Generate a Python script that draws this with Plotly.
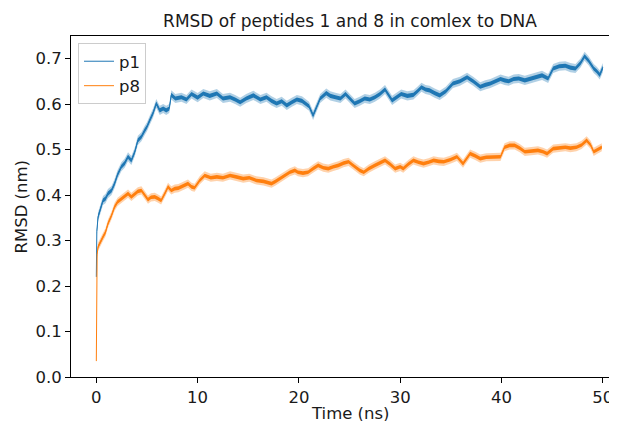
import plotly.graph_objects as go

# ---------------- data ----------------
t_p1 = [0, 0.05, 0.17, 0.4, 0.66, 0.9, 1.15, 1.5, 1.8, 2.1, 2.47, 2.8, 3.13, 3.46, 3.8,
        4.1, 4.45, 4.78, 5.0, 5.27, 5.6, 5.92, 6.26, 6.6, 6.9, 7.2, 7.4, 7.8, 8.4, 8.9,
        9.4, 10.0, 10.56, 11.2, 11.9, 12.5, 13.2, 13.7, 14.2, 14.8, 15.5, 16.2, 16.8,
        17.3, 17.8, 18.3, 18.8, 19.3, 19.8, 20.3, 20.6, 21.0, 21.4, 21.7, 22.1, 22.7,
        23.1, 23.6, 24.1, 24.6, 25.0, 25.5, 26.0, 26.5, 27.0, 27.5, 28.0, 28.5, 29.2,
        29.6, 30.1, 30.7, 31.3, 31.7, 32.1, 32.5, 32.9, 33.4, 33.9, 34.5, 35.2, 35.9,
        36.6, 37.2, 37.9, 38.4, 38.9, 39.4, 39.9, 40.3, 40.7, 41.2, 41.7, 42.3, 43.0,
        43.5, 44.0, 44.6, 45.1, 45.7, 46.3, 46.8, 47.3, 47.8, 48.2, 48.6, 49.1, 49.4,
        49.7, 50.0]
rmsd_p1 = [0.22, 0.32, 0.352, 0.37, 0.388, 0.392, 0.403, 0.41, 0.425, 0.445, 0.462, 0.47,
           0.484, 0.476, 0.495, 0.52, 0.528, 0.542, 0.55, 0.564, 0.58, 0.601, 0.586, 0.59,
           0.586, 0.59, 0.62, 0.612, 0.615, 0.61, 0.622, 0.614, 0.623, 0.618, 0.623,
           0.612, 0.615, 0.61, 0.604, 0.612, 0.619, 0.61, 0.615, 0.607, 0.601, 0.606,
           0.597, 0.604, 0.61, 0.607, 0.601, 0.595, 0.575, 0.59, 0.612, 0.624, 0.618,
           0.615, 0.612, 0.622, 0.612, 0.601, 0.606, 0.612, 0.61, 0.615, 0.622, 0.632,
           0.608, 0.614, 0.622, 0.618, 0.62, 0.628, 0.637, 0.632, 0.63, 0.624, 0.619,
           0.628, 0.645, 0.65, 0.659, 0.65, 0.638, 0.642, 0.645, 0.65, 0.655, 0.652,
           0.65, 0.655, 0.656, 0.652, 0.656, 0.66, 0.663, 0.656, 0.678, 0.683, 0.684,
           0.68, 0.678, 0.69, 0.705, 0.695, 0.678, 0.672, 0.664, 0.68]

t_p8 = [0, 0.03, 0.08, 0.17, 0.4, 0.66, 0.9, 1.15, 1.5, 1.8, 2.1, 2.47, 2.8, 3.13, 3.46,
        3.8, 4.1, 4.45, 4.8, 5.1, 5.4, 5.77, 6.1, 6.4, 6.8, 7.08, 7.4, 7.74, 8.1, 8.4,
        8.7, 9.05, 9.4, 9.7, 10.2, 10.7, 11.3, 11.9, 12.5, 13.2, 13.8, 14.5, 15.1, 15.8,
        16.5, 17.3, 17.7, 18.1, 18.6, 19.1, 19.6, 19.9, 20.4, 20.9, 21.4, 21.9, 22.4,
        22.9, 23.4, 23.9, 24.4, 24.9, 25.3, 25.7, 26.0, 26.4, 26.9, 27.5, 28.0, 28.5,
        29.0, 29.5, 30.0, 30.3, 30.8, 31.3, 31.8, 32.3, 32.8, 33.3, 33.8, 34.3, 35.0,
        35.6, 36.2, 36.9, 37.4, 37.9, 38.5, 39.2, 39.9, 40.3, 40.8, 41.3, 41.8, 42.3,
        43.0, 43.6, 44.1, 44.5, 45.1, 45.7, 46.3, 46.8, 47.4, 47.9, 48.4, 48.8, 49.1,
        49.5, 49.9]
rmsd_p8 = [0.035, 0.2, 0.27, 0.286, 0.295, 0.308, 0.318, 0.337, 0.355, 0.374, 0.385,
           0.392, 0.398, 0.403, 0.396, 0.403, 0.408, 0.41, 0.4, 0.39, 0.395, 0.396,
           0.392, 0.388, 0.405, 0.418, 0.41, 0.414, 0.415, 0.418, 0.42, 0.425, 0.418,
           0.416, 0.432, 0.443, 0.438, 0.44, 0.438, 0.443, 0.44, 0.436, 0.438, 0.432,
           0.43, 0.425, 0.43, 0.436, 0.442, 0.45, 0.454, 0.45, 0.448, 0.45, 0.458,
           0.465, 0.46, 0.458, 0.462, 0.465, 0.47, 0.473, 0.466, 0.458, 0.454, 0.45,
           0.458, 0.465, 0.47, 0.476, 0.468, 0.458, 0.462, 0.458, 0.468, 0.476, 0.472,
           0.469, 0.472, 0.476, 0.474, 0.473, 0.478, 0.484, 0.469, 0.491, 0.486, 0.48,
           0.483, 0.484, 0.484, 0.505, 0.509, 0.509, 0.503, 0.495, 0.497, 0.498, 0.495,
           0.491, 0.502, 0.503, 0.505, 0.503, 0.505, 0.51, 0.52, 0.51, 0.495, 0.5, 0.505]

# half-widths of the fast fluctuation band seen around each trace
# (dense core, and the fainter spikes around it)
core_p1, outer_p1 = 0.0045, 0.010
core_p8, outer_p8 = 0.004, 0.009

series_names = ["p1", "p8"]
x_ticks = [0, 10, 20, 30, 40, 50]
y_ticks = [0.0, 0.1, 0.2, 0.3, 0.4, 0.5, 0.6, 0.7]

BLUE = "#1f77b4"
ORANGE = "#ff7f0e"
FONT = "DejaVu Sans"
TXT = "#1a1a1a"
FS = 16.5

fig = go.Figure()


def add_band(t, v, spread, color, fill_rgba):
    lo = [a - spread for a in v]
    hi = [a + spread for a in v]
    fig.add_trace(go.Scatter(x=t, y=lo, mode="lines", line=dict(width=0, color=color),
                             showlegend=False, hoverinfo="skip"))
    fig.add_trace(go.Scatter(x=t, y=hi, mode="lines", line=dict(width=0, color=color),
                             fill="tonexty", fillcolor=fill_rgba, showlegend=False,
                             hoverinfo="skip"))


def add_series(t, v, core, outer, color, rgb, name):
    add_band(t, v, outer, color, "rgba(%s,0.35)" % rgb)
    add_band(t, v, core, color, "rgba(%s,1)" % rgb)
    fig.add_trace(go.Scatter(x=t, y=v, mode="lines", name=name,
                             line=dict(width=1, color=color)))


add_series(t_p1, rmsd_p1, core_p1, outer_p1, BLUE, "31,119,180", series_names[0])
add_series(t_p8, rmsd_p8, core_p8, outer_p8, ORANGE, "255,127,14", series_names[1])

# the page body has an 8px margin, so the figure starts at (8, 8) in the window
OFF = 8
W, H = 617 - OFF, 421 - OFF
L, R, T, B = 71 - OFF, 0, 36 - OFF, 421 - 377
pw = W - L - R
ph = H - T - B


def px_x(win_x):
    return (win_x - 71) / pw


def px_y(win_y):
    return (377 - win_y) / ph


axis_common = dict(showline=True, linecolor="black", linewidth=1, ticks="outside",
                   ticklen=5, tickwidth=1, tickcolor="black", showgrid=False,
                   zeroline=False, automargin=False, ticklabeloverflow="allow",
                   tickfont=dict(family=FONT, size=FS, color=TXT))

fig.update_layout(
    width=W, height=H,
    margin=dict(l=L, r=R, t=T, b=B, pad=0, autoexpand=False),
    plot_bgcolor="white", paper_bgcolor="white",
    font=dict(family=FONT, size=FS, color=TXT),
    title=dict(text="RMSD of peptides 1 and 8 in comlex to DNA",
               x=px_x(350), xref="paper", xanchor="center",
               y=1 - (21 - OFF) / H, yref="container", yanchor="middle",
               font=dict(family=FONT, size=17, color=TXT)),
    xaxis=dict(range=[-2.5, 51.4], tickvals=x_ticks, mirror=True, **axis_common),
    yaxis=dict(range=[0.0, 0.7495], tickvals=y_ticks, tickformat=".1f", **axis_common),
    legend=dict(x=px_x(78), y=px_y(43), xanchor="left", yanchor="top",
                traceorder="normal",
                bordercolor="#cccccc", borderwidth=1, bgcolor="rgba(255,255,255,0.8)",
                font=dict(family=FONT, size=FS, color=TXT)),
    showlegend=True,
    annotations=[
        dict(text="Time (ns)", x=px_x(350), y=px_y(414), xref="paper",
             yref="paper", xanchor="center", yanchor="middle", showarrow=False,
             font=dict(family=FONT, size=FS, color=TXT)),
        dict(text="RMSD (nm)", x=px_x(21), y=0.5, xref="paper", yref="paper",
             xanchor="center", yanchor="middle", textangle=-90, showarrow=False,
             font=dict(family=FONT, size=FS, color=TXT)),
    ],
)

fig.write_html("out.html")
